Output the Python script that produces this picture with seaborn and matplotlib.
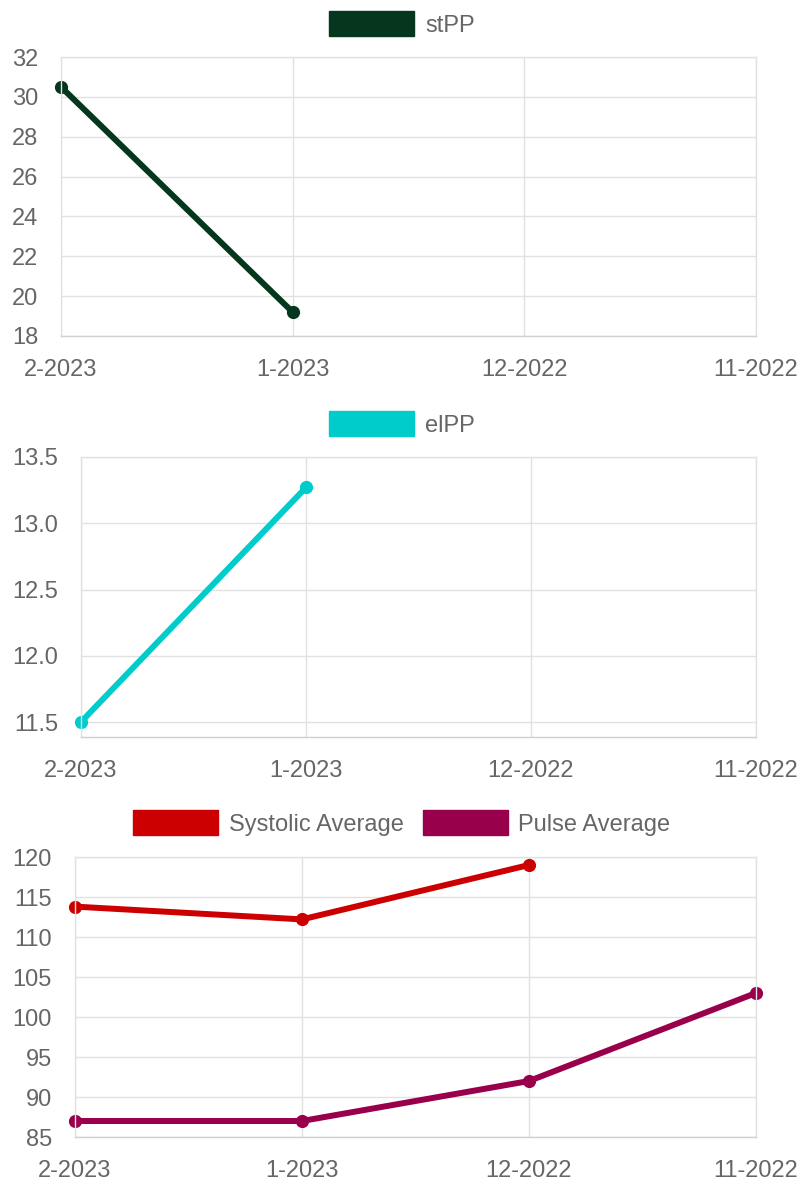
import numpy as np
import pandas as pd
import matplotlib
matplotlib.use("Agg")
import matplotlib.pyplot as plt
import seaborn as sns
from matplotlib.patches import Patch
from matplotlib.ticker import FormatStrFormatter

# ----------- DONNÉES ------------
months = ['2-2023', '1-2023', '12-2022', '11-2022']
stpp = [30.5, 19.2, np.nan, np.nan]
elpp = [11.5, 13.27, np.nan, np.nan]
systolic = [113.8, 112.2, 119.0, np.nan]
pulse = [87.0, 87.0, 92.0, 103.0]

# ----------- STYLE ------------
sns.set_style("white")
plt.rcParams['font.family'] = ['Liberation Sans', 'DejaVu Sans']
plt.rcParams['font.size'] = 17

TXT = '#666666'
GRID = '#e1e1e1'
GREEN = '#04371d'
CYAN = '#00cccc'
RED = '#cc0000'
PLUM = '#99004c'

fig = plt.figure(figsize=(8.04, 11.85), dpi=100)
H = 1185.0
W = 804.0


def make_axes(left_px, top_px, bottom_px, right_px=756):
    return fig.add_axes([left_px / W, 1 - bottom_px / H,
                         (right_px - left_px) / W, (bottom_px - top_px) / H])


def style_axes(ax, ylim, yticks, fmt):
    ax.set_xlim(0, len(months) - 1)
    ax.set_ylim(*ylim)
    ax.set_xticks(range(len(months)))
    ax.set_xticklabels(months)
    ax.set_yticks(yticks)
    ax.yaxis.set_major_formatter(FormatStrFormatter(fmt))
    ax.grid(True, color=GRID, linewidth=1)
    ax.set_axisbelow(True)
    for s in ax.spines.values():
        s.set_color(GRID)
        s.set_linewidth(1)
    ax.spines['bottom'].set_color('#d0d0d0')
    ax.tick_params(axis='both', length=11.5, width=1, color=GRID,
                   labelcolor=TXT, labelsize=17, pad=5)
    ax.set_xlabel('')
    ax.set_ylabel('')


def draw_line(ax, values, color):
    df = pd.DataFrame({'x': range(len(months)), 'y': values}).dropna()
    sns.lineplot(data=df, x='x', y='y', ax=ax, color=color, linewidth=4.3,
                 marker='o', markersize=9.5, markeredgewidth=0, clip_on=False)


def add_legend(labels, colors, y_px):
    handles = [Patch(facecolor=c, edgecolor=c, label=l) for l, c in zip(labels, colors)]
    fig.legend(handles=handles, loc='center', bbox_to_anchor=(0.5, 1 - y_px / H),
               ncol=len(handles), frameon=False, fontsize=17, labelcolor=TXT,
               handlelength=3.6, handleheight=1.25, handletextpad=0.45,
               columnspacing=0.8, borderpad=0)


# ----------- PANNEAU 1 : stPP ------------
ax1 = make_axes(61, 57, 336)
draw_line(ax1, stpp, GREEN)
style_axes(ax1, (18, 32), np.arange(18, 33, 2), '%d')
add_legend(['stPP'], [GREEN], 24)

# ----------- PANNEAU 2 : elPP ------------
ax2 = make_axes(81, 457, 737)
draw_line(ax2, elpp, CYAN)
style_axes(ax2, (11.387, 13.5), [11.5, 12.0, 12.5, 13.0, 13.5], '%.1f')
add_legend(['elPP'], [CYAN], 424)

# ----------- PANNEAU 3 : moyennes ------------
ax3 = make_axes(75, 857, 1137)
draw_line(ax3, systolic, RED)
draw_line(ax3, pulse, PLUM)
style_axes(ax3, (85, 120), np.arange(85, 121, 5), '%d')
add_legend(['Systolic Average', 'Pulse Average'], [RED, PLUM], 823)

fig.savefig('out.png', dpi=100)
